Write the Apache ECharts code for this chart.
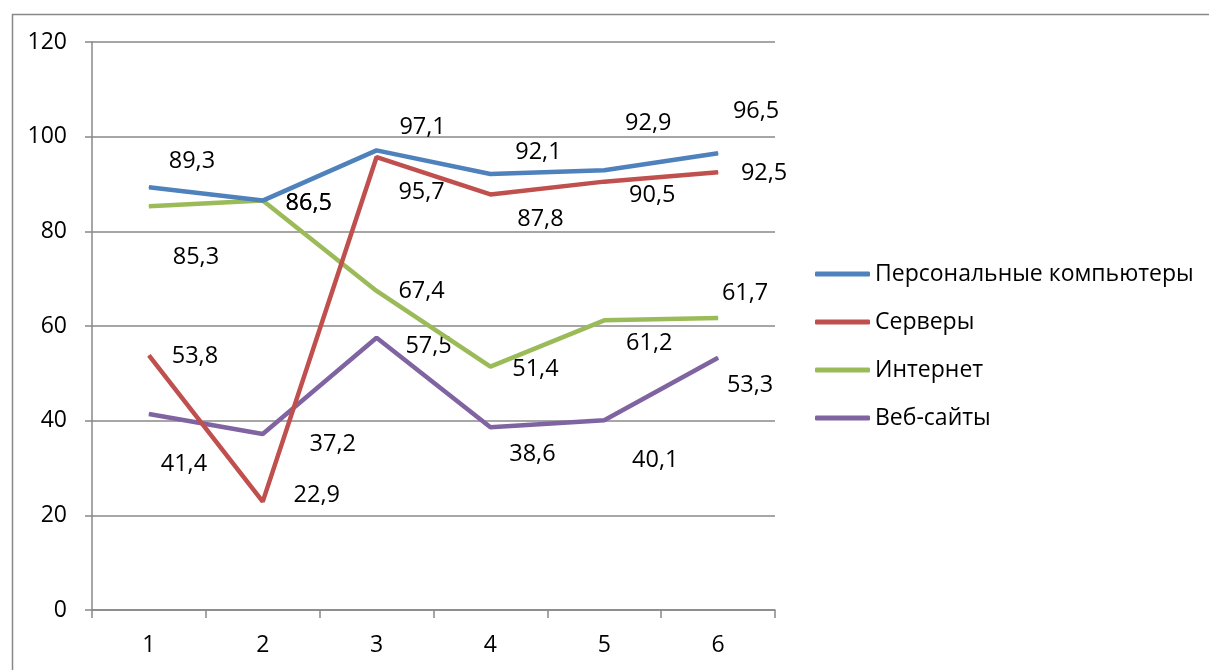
<!DOCTYPE html>
<html><head><meta charset="utf-8">
<script src="https://cdn.jsdelivr.net/npm/echarts@6/dist/echarts.min.js"></script>
<style>html,body{margin:0;padding:0;background:#fff}#c{width:1209px;height:670px}</style>
</head><body><div id="c"></div>
<script>
const categories = ['1','2','3','4','5','6'];
const seriesNames = ['Персональные компьютеры','Серверы','Интернет','Веб-сайты'];
const pc = [89.3, 86.5, 97.1, 92.1, 92.9, 96.5];
const servers = [53.8, 22.9, 95.7, 87.8, 90.5, 92.5];
const internet = [85.3, 86.5, 67.4, 51.4, 61.2, 61.7];
const websites = [41.4, 37.2, 57.5, 38.6, 40.1, 53.3];
const yTicks = [0, 20, 40, 60, 80, 100, 120];

// label placement (pixel offsets from the point)
const labelOffsets = [
  [[43,-26],[46,3],[46,-23],[48,-22],[44,-47],[38,-42]],
  [[46,1],[54,-6],[45,35],[50,25],[48,14],[46,1]],
  [[47,51],[46,3],[45,0],[45,3],[45,23],[27,-25]],
  [[35,50],[70,10],[52,8],[42,27],[51,40],[32,28]]
];
const colors = ['#4F81BD','#C0504D','#9BBB59','#8064A2'];
const FONT = '"Open Sans", "Noto Sans", sans-serif';
const FS = 23.5;
const fmt = v => String(v).replace('.', ',');

const allData = [pc, servers, internet, websites];
const series = allData.map((arr, si) => ({
  name: seriesNames[si],
  type: 'line',
  symbol: 'circle',
  symbolSize: 1,
  lineStyle: { width: 4.5, color: colors[si] },
  itemStyle: { color: colors[si] },
  label: {
    show: true, position: 'inside', color: '#000',
    fontFamily: FONT, fontSize: FS, align: 'center', verticalAlign: 'middle',
    formatter: p => fmt(p.value)
  },
  data: arr.map((v, i) => ({ value: v, label: { offset: labelOffsets[si][i] } })),
  z: 10 - si
}));

const chart = echarts.init(document.getElementById('c'));
chart.setOption({
  animation: false,
  color: colors,
  graphic: [{
    type: 'rect', left: 10, top: 12,
    shape: { x: 0, y: 0, width: 1300, height: 800 },
    style: { fill: 'none', stroke: '#888', lineWidth: 1.5 }, silent: true
  }],
  grid: { left: 92, top: 42, right: 434, bottom: 60 },
  legend: {
    orient: 'vertical', left: 810, top: 256,
    icon: 'roundRect', itemWidth: 55, itemHeight: 5, itemGap: 22,
    textStyle: { fontFamily: FONT, fontSize: 23, color: '#000', lineHeight: 26 },
    data: seriesNames
  },
  xAxis: {
    type: 'category', data: categories, boundaryGap: true,
    axisLine: { lineStyle: { color: '#888', width: 1.5 } },
    axisTick: { show: true, length: 8, lineStyle: { color: '#888', width: 1.5 } },
    axisLabel: { fontFamily: FONT, fontSize: 23, color: '#000', margin: 24 }
  },
  yAxis: {
    type: 'value', min: yTicks[0], max: yTicks[yTicks.length-1], interval: 20,
    axisLine: { show: true, lineStyle: { color: '#888', width: 1.5 } },
    axisTick: { show: true, length: 7, lineStyle: { color: '#888', width: 1.5 } },
    splitLine: { lineStyle: { color: '#888', width: 1.5 } },
    axisLabel: { fontFamily: FONT, fontSize: 23, color: '#000', margin: 25 }
  },
  series
});
</script></body></html>
